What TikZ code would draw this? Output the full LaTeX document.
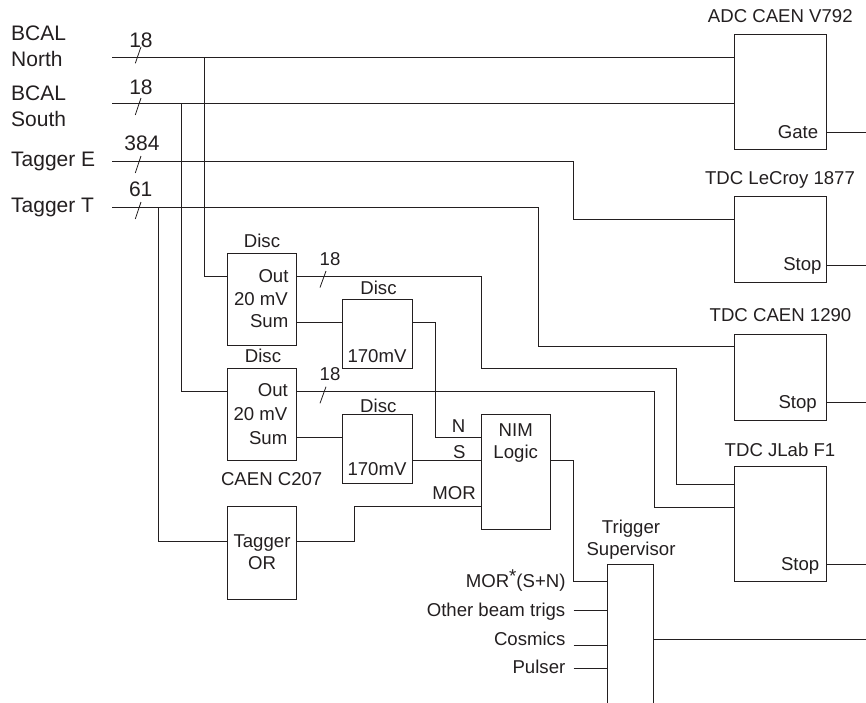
\documentclass[tikz,border=0pt]{standalone}
\usepackage{fontspec}
\setmainfont{Liberation Sans}
\definecolor{ink}{HTML}{231F20}
\tikzset{
  wire/.style={draw=ink,line width=1.2pt,line cap=butt,line join=miter},
  tick/.style={draw=ink,line width=0.8pt},
  box/.style={draw=ink,line width=1.2pt,fill=none,inner sep=0pt,outer sep=0pt},
  openbox/.style={draw=none,inner sep=0pt,outer sep=0pt},
  big/.style={text=ink,inner sep=0pt,font=\fontsize{21}{23}\selectfont},
  lab/.style={text=ink,inner sep=0pt,font=\fontsize{18.6}{20}\selectfont},
  cb/.style={lab,anchor=base},
  rb/.style={lab,anchor=base east},
}
\begin{document}
\begin{tikzpicture}[x=1pt,y=-1pt]
\useasboundingbox (0,0) rectangle (866,702);
% boxes
\node[box,minimum width=92pt,minimum height=115pt] (adc) at (780.5,92) {};
\node[box,minimum width=92pt,minimum height=86pt] (lecroy) at (780.5,239.5) {};
\node[box,minimum width=92pt,minimum height=86pt] (caen) at (780.5,377.5) {};
\node[box,minimum width=92pt,minimum height=115pt] (jlab) at (780.5,524) {};
\node[box,minimum width=69pt,minimum height=92pt] (d1) at (262,299.5) {};
\node[box,minimum width=69pt,minimum height=92pt] (d2) at (262,414.5) {};
\node[box,minimum width=70pt,minimum height=69pt] (s1) at (377.5,334) {};
\node[box,minimum width=70pt,minimum height=69pt] (s2) at (377.5,449) {};
\node[box,minimum width=69pt,minimum height=115pt] (nim) at (516,472) {};
\node[box,minimum width=69pt,minimum height=93pt] (tor) at (262,553) {};
\node[openbox,minimum width=46pt,minimum height=138pt] (ts) at (630.5,633.5) {};
\draw[wire] (ts.south west) -- (ts.north west) -- (ts.north east) -- (ts.south east);
% free ends
\coordinate (bn) at (112,57.5);
\coordinate (bs) at (112,103.5);
\coordinate (te) at (112,161.5);
\coordinate (tt) at (112,207.5);
\coordinate (gateEnd) at (866,132.5);
\coordinate (stopA) at (866,265.5);
\coordinate (stopB) at (866,402.5);
\coordinate (stopC) at (866,564.5);
\coordinate (tsOut) at (866,639.5);
\coordinate (o1) at (573.5,610.5);
\coordinate (o2) at (573.5,645.5);
\coordinate (o3) at (573.5,668.5);
% inputs
\draw[wire] (bn) -- (adc.west |- bn);
\draw[wire] (bs) -- (adc.west |- bs);
\draw[wire] (te) -- (573.5,161.5) -- (573.5,219.5) -- (lecroy.west |- 0,219.5);
\draw[wire] (tt) -- (538.5,207.5) -- (538.5,346.5) -- (caen.west |- 0,346.5);
\draw[wire] (204.5,57.5) -- (204.5,276.5) -- (d1.west |- 0,276.5);
\draw[wire] (181.5,103.5) -- (181.5,391.5) -- (d2.west |- 0,391.5);
\draw[wire] (158.5,207.5) -- (158.5,541.5) -- (tor.west |- 0,541.5);
% disc outputs
\draw[wire] (d1.east |- 0,276.5) -- (481.5,276.5) -- (481.5,368.5) -- (676.5,368.5) -- (676.5,484.5) -- (jlab.west |- 0,484.5);
\draw[wire] (d2.east |- 0,391.5) -- (654.5,391.5) -- (654.5,507.5) -- (jlab.west |- 0,507.5);
\draw[wire] (d1.east |- 0,322.5) -- (s1.west |- 0,322.5);
\draw[wire] (d2.east |- 0,437.5) -- (s2.west |- 0,437.5);
\draw[wire] (s1.east |- 0,322.5) -- (435.5,322.5) -- (435.5,437.5) -- (nim.west |- 0,437.5);
\draw[wire] (s2.east |- 0,460.5) -- (nim.west |- 0,460.5);
\draw[wire] (tor.east |- 0,541.5) -- (354.5,541.5) -- (354.5,506.5) -- (nim.west |- 0,506.5);
\draw[wire] (nim.east |- 0,460.5) -- (573.5,460.5) -- (573.5,581.5) -- (ts.west |- 0,581.5);
\draw[wire] (o1) -- (ts.west |- o1);
\draw[wire] (o2) -- (ts.west |- o2);
\draw[wire] (o3) -- (ts.west |- o3);
\draw[wire] (ts.east |- tsOut) -- (tsOut);
\draw[wire] (adc.east |- gateEnd) -- (gateEnd);
\draw[wire] (lecroy.east |- stopA) -- (stopA);
\draw[wire] (caen.east |- stopB) -- (stopB);
\draw[wire] (jlab.east |- stopC) -- (stopC);
% bus ticks
\draw[tick] (135.3,63.3) -- (141,46.8);
\draw[tick] (135.3,115) -- (141,98);
\draw[tick] (135.3,173) -- (141,156);
\draw[tick] (135.3,219) -- (141,202);
\draw[tick] (320,287.5) -- (326,271);
\draw[tick] (320,403.3) -- (326,386.7);
% left labels
\node[big,anchor=base west] (l1) at (11,40) {BCAL};
\node[big,anchor=base west] (l2) at (11,66) {North};
\node[big,anchor=base west] (l3) at (11,100.7) {BCAL};
\node[big,anchor=base west] (l4) at (11,126.7) {South};
\node[big,anchor=base west] (l5) at (11,166.7) {Tagger E};
\node[big,anchor=base west] (l6) at (11,212.7) {Tagger T};
\node[big,anchor=base] (n1) at (141,47) {18};
\node[big,anchor=base] (n2) at (141,94) {18};
\node[big,anchor=base] (n3) at (142,150) {384};
\node[big,anchor=base] (n4) at (140.7,196) {61};
% labels
\node[cb] (t1) at (262,247.3) {Disc};
\node[cb] (t2) at (330,265) {18};
\node[rb] (t3) at (288.7,282.7) {Out};
\node[rb] (t4) at (288,305) {20 mV};
\node[rb] (t5) at (288.5,327.3) {Sum};
\node[cb] (t6) at (378.5,294.7) {Disc};
\node[cb] (t7) at (377,362.7) {170mV};
\node[cb] (t8) at (263,362) {Disc};
\node[cb] (t9) at (330,380.3) {18};
\node[rb] (t10) at (288,396.3) {Out};
\node[rb] (t11) at (287.5,420.3) {20 mV};
\node[rb] (t12) at (287.5,444.3) {Sum};
\node[cb] (t13) at (378.3,412) {Disc};
\node[cb] (t14) at (377,475) {170mV};
\node[cb] (t15) at (271.7,485) {CAEN C207};
\node[cb] (t16) at (262,547) {Tagger};
\node[cb] (t17) at (262,569.7) {OR};
\node[cb] (t18) at (515.7,436.3) {NIM};
\node[cb] (t19) at (515.7,458.7) {Logic};
\node[cb] (t20) at (458.7,432) {N};
\node[cb] (t21) at (459.3,458.7) {S};
\node[rb] (t22) at (476,499.7) {MOR};
\node[cb] (t23) at (631,533.3) {Trigger};
\node[cb] (t24) at (631,555) {Supervisor};
\node[rb] (t25) at (565.7,587) {MOR\raisebox{5pt}{*}(S+N)};
\node[rb] (t26) at (565.5,616.3) {Other beam trigs};
\node[rb] (t27) at (565.5,645) {Cosmics};
\node[rb] (t28) at (565.5,673.7) {Pulser};
\node[cb] (t29) at (780.3,22.7) {ADC CAEN V792};
\node[cb] (t30) at (780,184) {TDC LeCroy 1877};
\node[cb] (t31) at (780.5,321.3) {TDC CAEN 1290};
\node[cb] (t32) at (780,456) {TDC JLab F1};
\node[rb] (t33) at (818.3,138) {Gate};
\node[rb] (t34) at (821.7,270) {Stop};
\node[rb] (t35) at (817,408.3) {Stop};
\node[rb] (t36) at (819.5,570) {Stop};
\end{tikzpicture}
\end{document}
